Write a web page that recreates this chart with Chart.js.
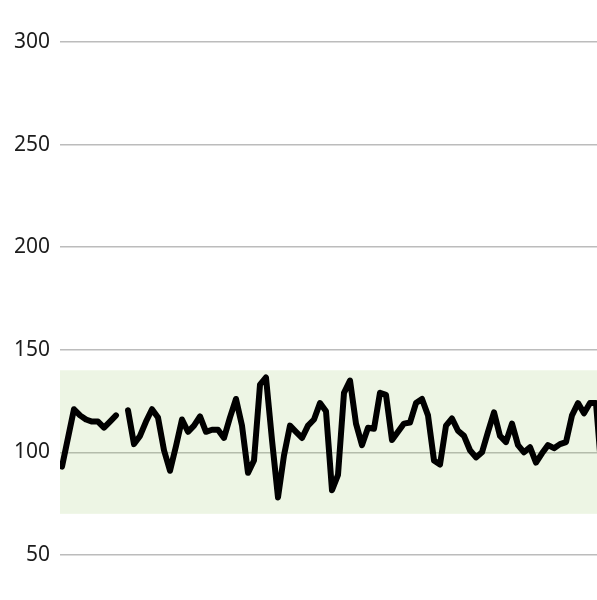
<!DOCTYPE html>
<html>
<head>
<meta charset="utf-8">
<script src="https://cdn.jsdelivr.net/npm/chart.js@4.4.0/dist/chart.umd.min.js"></script>
<style>
  html, body { margin: 0; padding: 0; background: #fff; }
  #wrap { width: 597px; height: 600px; position: relative; }
</style>
</head>
<body>
<div id="wrap"><canvas id="grafico"></canvas></div>
<script>
// valores (null = hueco en la linea)
const valores = [93, 107, 121, 118, 116, 115, 115, 112, 115, 118, null,
  120.5, 104, 108, 115, 121, 117, 101, 91, 103, 116,
  110, 113, 117.5, 110, 111, 111, 107, 117, 126, 113,
  90, 96, 133, 136.5, 106, 78, 98.5, 113, 110, 107,
  113, 116, 124, 120, 81.5, 89, 129, 135, 114, 103.5,
  112, 111.5, 129, 128, 106, 110, 114, 114.5, 124, 126,
  118, 96, 94, 113, 116.5, 110.5, 108, 101, 97.5, 100,
  110, 119.5, 108, 105, 114, 103.5, 100, 102.5, 95, 99.5,
  103.5, 102, 104, 105, 118, 124, 119, 124, 124, 88];
const indices = valores.map((v, i) => i);
const marcasY = [50, 100, 150, 200, 250, 300];
const rangoNormal = [70, 140];

const banda = {
  id: 'banda',
  beforeDatasetsDraw(chart) {
    const {ctx, chartArea, scales} = chart;
    const yTop = scales.y.getPixelForValue(rangoNormal[1]);
    const yBot = scales.y.getPixelForValue(rangoNormal[0]);
    ctx.save();
    ctx.fillStyle = 'rgba(140, 190, 90, 0.16)';
    ctx.fillRect(chartArea.left, yTop, chartArea.right - chartArea.left, yBot - yTop);
    ctx.restore();
  }
};

const data = {
  datasets: [{
    data: indices.map((x, i) => ({x: x, y: valores[i]})),
    borderColor: '#000',
    borderWidth: 6,
    borderJoinStyle: 'round',
    borderCapStyle: 'round',
    pointRadius: 0,
    tension: 0,
    spanGaps: false
  }]
};

const config = {
  type: 'line',
  data: data,
  plugins: [banda],
  options: {
    responsive: true,
    maintainAspectRatio: false,
    animation: false,
    layout: { padding: 0 },
    plugins: { legend: { display: false }, tooltip: { enabled: false } },
    scales: {
      x: {
        type: 'linear',
        display: false,
        min: -0.333,
        max: 89.167
      },
      y: {
        min: 28,
        max: 320.5,
        afterBuildTicks: (axis) => { axis.ticks = marcasY.map(v => ({value: v})); },
        afterFit: (axis) => { axis.width = 60; axis.paddingTop = 0; axis.paddingBottom = 0; },
        border: { display: false },
        grid: { color: '#bcbcbc', lineWidth: 1.4, drawTicks: false },
        ticks: {
          padding: 10,
          color: '#1c1c1c',
          font: { family: 'Noto Sans', size: 21 }
        }
      }
    }
  }
};

new Chart(document.getElementById('grafico'), config);
</script>
</body>
</html>
